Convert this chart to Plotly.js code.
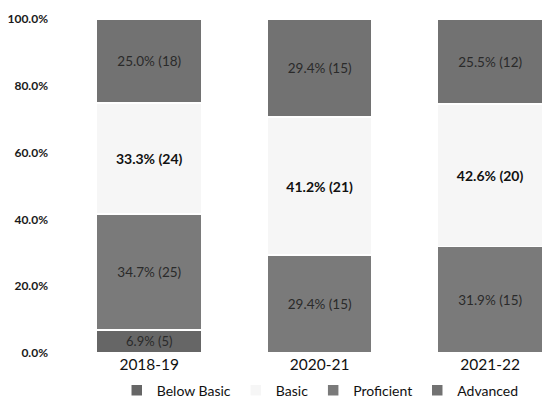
<!DOCTYPE html>
<html>
<head>
<meta charset="utf-8">
<script src="https://cdn.plot.ly/plotly-3.0.1.min.js"></script>
<style>html,body{margin:0;padding:0;background:#fff;}#chart{width:543px;height:407px;}</style>
</head>
<body>
<div id="chart"></div>
<script>
const categories = ['2018-19', '2020-21', '2021-22'];

const belowBasicPct = [6.9, 0, 0];
const belowBasicN   = [5, 0, 0];
const proficientPct = [34.7, 29.4, 31.9];
const proficientN   = [25, 15, 15];
const basicPct      = [33.3, 41.2, 42.6];
const basicN        = [24, 21, 20];
const advancedPct   = [25.0, 29.4, 25.5];
const advancedN     = [18, 15, 12];

const yTickVals   = [0, 20, 40, 60, 80, 100];
const yTickLabels = ['0.0%', '20.0%', '40.0%', '60.0%', '80.0%', '100.0%'];

function labels(p, n) {
  return p.map((v, i) => v > 0 ? v.toFixed(1) + '% (' + n[i] + ')' : '');
}

function trace(name, p, n, color, textColor, rank, size, weight) {
  return {
    type: 'bar', name: name, x: categories, y: p,
    text: labels(p, n), textposition: 'inside', insidetextanchor: 'middle',
    textfont: {family: 'Lato, sans-serif', size: size, color: textColor, weight: weight},
    marker: {color: color, line: {color: '#ffffff', width: 1.5}},
    width: 0.616, legendrank: rank, hoverinfo: 'skip'
  };
}

const data = [
  trace('Below Basic', belowBasicPct, belowBasicN, '#666666', '#2a2a2a', 1, 13, 'normal'),
  trace('Proficient', proficientPct, proficientN, '#7a7a7a', '#2a2a2a', 3, 13.5, 'normal'),
  trace('Basic', basicPct, basicN, '#f6f6f6', '#111111', 2, 14, 'bold'),
  trace('Advanced', advancedPct, advancedN, '#727272', '#2a2a2a', 4, 13.5, 'normal')
];

const layout = {
  width: 543, height: 407,
  margin: {l: 64, r: 0, t: 19, b: 52},
  barmode: 'stack',
  paper_bgcolor: '#ffffff', plot_bgcolor: '#ffffff',
  font: {family: 'Lato, sans-serif', color: '#222'},
  xaxis: {
    type: 'category', range: [-0.5, 2.31], showgrid: false, zeroline: false, showline: false,
    tickfont: {family: 'Lato, sans-serif', size: 15.5, color: '#111111'}, ticklabelstandoff: 0
  },
  yaxis: {
    range: [0, 100], tickvals: yTickVals, ticktext: yTickLabels, showgrid: false, zeroline: false, showline: false,
    tickfont: {family: 'Lato, sans-serif', size: 12, color: '#1a1a1a', weight: 'bold'}, ticklabelstandoff: 15
  },
  showlegend: true,
  legend: {
    orientation: 'h', x: 0.535, xanchor: 'center', y: -0.065, yanchor: 'top',
    font: {family: 'Lato, sans-serif', size: 14, color: '#111111'},
    traceorder: 'normal', itemwidth: 30
  }
};

Plotly.newPlot('chart', data, layout, {displayModeBar: false, staticPlot: true});
</script>
</body>
</html>
